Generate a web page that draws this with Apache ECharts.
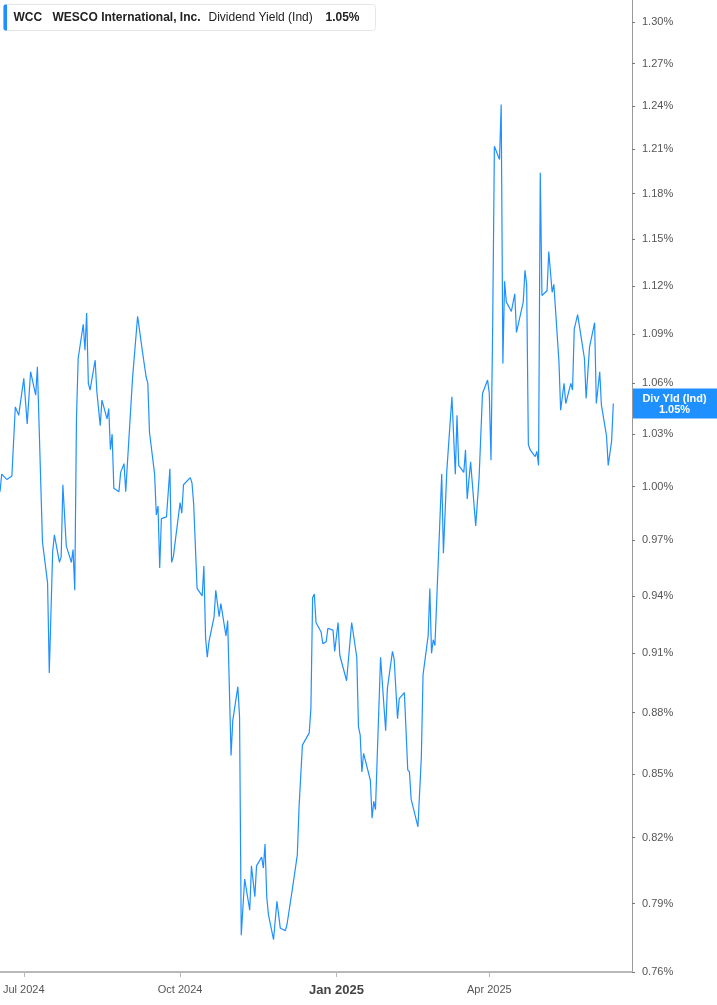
<!DOCTYPE html>
<html><head><meta charset="utf-8">
<script src="https://cdn.jsdelivr.net/npm/echarts@6/dist/echarts.min.js"></script>
<style>html,body{margin:0;padding:0;background:#fff}#c{width:717px;height:1005px}</style>
</head><body><div id="c"></div>
<script>
const dates = [
'2024-06-17','2024-06-18','2024-06-21','2024-06-24','2024-06-26','2024-06-28','2024-07-01','2024-07-03','2024-07-05','2024-07-08',
'2024-07-09','2024-07-12','2024-07-15','2024-07-16','2024-07-18','2024-07-19','2024-07-22','2024-07-23','2024-07-24','2024-07-26',
'2024-07-29','2024-07-30','2024-07-31','2024-08-01','2024-08-02','2024-08-05','2024-08-06','2024-08-07','2024-08-08','2024-08-09',
'2024-08-12','2024-08-13','2024-08-14','2024-08-15','2024-08-16','2024-08-19','2024-08-20','2024-08-21','2024-08-22','2024-08-23',
'2024-08-26','2024-08-27','2024-08-28','2024-08-29','2024-08-30','2024-09-03','2024-09-06','2024-09-09','2024-09-10','2024-09-11',
'2024-09-12','2024-09-13','2024-09-16','2024-09-17','2024-09-18','2024-09-19','2024-09-20','2024-09-23','2024-09-24','2024-09-25',
'2024-09-26','2024-09-27','2024-10-01','2024-10-02','2024-10-03','2024-10-04','2024-10-07','2024-10-08','2024-10-09','2024-10-10',
'2024-10-11','2024-10-14','2024-10-15','2024-10-16','2024-10-17','2024-10-18','2024-10-21','2024-10-22','2024-10-23','2024-10-24',
'2024-10-25','2024-10-28','2024-10-29','2024-10-30','2024-10-31','2024-11-01','2024-11-04','2024-11-05','2024-11-06','2024-11-08',
'2024-11-11','2024-11-12','2024-11-14','2024-11-15','2024-11-18','2024-11-19','2024-11-20','2024-11-21','2024-11-22','2024-11-25',
'2024-11-27','2024-11-29','2024-12-02','2024-12-03','2024-12-04','2024-12-06','2024-12-09','2024-12-10','2024-12-12','2024-12-16',
'2024-12-17','2024-12-18','2024-12-19','2024-12-20','2024-12-23','2024-12-24','2024-12-26','2024-12-27','2024-12-30','2024-12-31',
'2025-01-02','2025-01-03','2025-01-07','2025-01-08','2025-01-10','2025-01-13','2025-01-14','2025-01-15','2025-01-16','2025-01-17',
'2025-01-21','2025-01-22','2025-01-23','2025-01-24','2025-01-27','2025-01-30','2025-01-31','2025-02-03','2025-02-04','2025-02-06',
'2025-02-07','2025-02-10','2025-02-11','2025-02-12','2025-02-13','2025-02-14','2025-02-18','2025-02-20','2025-02-21','2025-02-24',
'2025-02-25','2025-02-26','2025-02-27','2025-02-28','2025-03-04','2025-03-05','2025-03-07','2025-03-10','2025-03-12','2025-03-13',
'2025-03-14','2025-03-17','2025-03-18','2025-03-19','2025-03-21','2025-03-24','2025-03-26','2025-03-28','2025-03-31','2025-04-01',
'2025-04-02','2025-04-03','2025-04-04','2025-04-07','2025-04-08','2025-04-09','2025-04-10','2025-04-11','2025-04-14','2025-04-15',
'2025-04-16','2025-04-17','2025-04-21','2025-04-22','2025-04-23','2025-04-24','2025-04-25','2025-04-28','2025-04-29','2025-04-30',
'2025-05-01','2025-05-02','2025-05-05','2025-05-06','2025-05-07','2025-05-08','2025-05-09','2025-05-12','2025-05-13','2025-05-14',
'2025-05-15','2025-05-16','2025-05-19','2025-05-20','2025-05-21','2025-05-22','2025-05-23','2025-05-27','2025-05-28','2025-05-30',
'2025-06-02','2025-06-03','2025-06-05','2025-06-06','2025-06-09','2025-06-10','2025-06-12','2025-06-13'
];
const yields = [
0.997,1.007,1.004,1.006,1.046,1.041,1.063,1.036,1.067,1.053,
1.070,0.969,0.947,0.900,0.964,0.973,0.958,0.961,1.001,0.967,
0.958,0.965,0.943,1.039,1.075,1.096,1.080,1.103,1.060,1.056,
1.074,1.055,1.056,1.035,1.050,1.039,1.045,1.021,1.030,0.999,
0.997,1.008,1.008,1.013,0.997,1.063,1.101,1.078,1.078,1.064,
1.060,1.031,1.007,0.984,0.989,0.955,0.982,0.983,0.982,1.010,
0.958,0.961,0.991,0.985,1.001,1.000,1.005,1.002,0.990,0.989,
0.944,0.940,0.956,0.918,0.908,0.916,0.929,0.943,0.944,0.929,
0.936,0.919,0.927,0.927,0.859,0.876,0.893,0.878,0.776,0.801,
0.787,0.807,0.793,0.807,0.811,0.806,0.817,0.793,0.785,0.774,
0.791,0.779,0.778,0.781,0.781,0.796,0.812,0.834,0.864,0.870,
0.882,0.939,0.941,0.926,0.921,0.915,0.916,0.923,0.922,0.911,
0.926,0.909,0.896,0.897,0.926,0.908,0.873,0.869,0.851,0.860,
0.847,0.829,0.837,0.833,0.908,0.871,0.892,0.911,0.907,0.877,
0.887,0.890,0.871,0.852,0.851,0.838,0.825,0.858,0.899,0.919,
0.944,0.910,0.917,0.914,1.007,0.963,1.009,1.052,1.007,1.041,
1.012,1.008,1.021,0.993,1.014,0.978,1.005,1.054,1.062,1.054,
1.015,1.096,1.212,1.203,1.241,1.072,1.123,1.110,1.104,1.104,
1.115,1.091,1.110,1.130,1.121,1.024,1.021,1.017,1.020,1.012,
1.194,1.114,1.117,1.142,1.142,1.116,1.121,1.073,1.044,1.045,
1.060,1.048,1.060,1.056,1.093,1.094,1.102,1.075,1.051,1.082,
1.097,1.048,1.067,1.047,1.029,1.012,1.026,1.048
];
const yTicks = [0.76,0.79,0.82,0.85,0.88,0.91,0.94,0.97,1.00,1.03,1.06,1.09,1.12,1.15,1.18,1.21,1.24,1.27,1.30];
const xTickDates = ['2024-07-01','2024-10-01','2025-01-01','2025-04-01'];
const monthNames = ['Jan','Feb','Mar','Apr','May','Jun','Jul','Aug','Sep','Oct','Nov','Dec'];
const xStart = '2024-06-17', xEnd = '2025-06-24';
const yMin = 0.76, yMax = 1.3165;
const ticker = 'WCC', company = 'WESCO International, Inc.', metric = 'Dividend Yield (Ind)', tagName = 'Div Yld (Ind)';

const ts = s => new Date(s + 'T00:00:00').getTime();
const lastVal = yields[yields.length - 1];
const lastTxt = lastVal.toFixed(2) + '%';
const blue = '#1e90ff';
const FONT = '"Liberation Sans", Arial, sans-serif';
const W = 717;

const header = [{
  type: 'group', id: 'hdr', left: 3, top: 4,
  children: [
    {type: 'rect', shape: {x: 0, y: 0, width: 372, height: 26, r: 3}, style: {fill: '#fff', stroke: '#e6e6e6', lineWidth: 1}},
    {type: 'rect', shape: {x: 0, y: 0, width: 3.5, height: 26, r: [2, 0, 0, 2]}, style: {fill: blue}},
    {type: 'text', x: 10, y: 13, style: {text: ticker, fill: '#222', font: 'bold 12px ' + FONT, verticalAlign: 'middle'}},
    {type: 'text', x: 49, y: 13, style: {text: company, fill: '#222', font: 'bold 12px ' + FONT, verticalAlign: 'middle'}},
    {type: 'text', x: 205, y: 13, style: {text: metric, fill: '#222', font: '12px ' + FONT, verticalAlign: 'middle'}},
    {type: 'text', x: 322, y: 13, style: {text: lastTxt, fill: '#222', font: 'bold 12px ' + FONT, verticalAlign: 'middle'}}
  ]
}];

const chart = echarts.init(document.getElementById('c'), null, {renderer: 'canvas'});
chart.setOption({
  animation: false,
  textStyle: {fontFamily: FONT},
  grid: {left: 0, right: 85, top: 0, bottom: 33, containLabel: false},
  xAxis: {
    type: 'value', min: ts(xStart), max: ts(xEnd), scale: true,
    axisLine: {show: true, lineStyle: {color: '#b8b8b8', width: 2}},
    axisTick: {show: true, customValues: xTickDates.map(ts), length: 5, lineStyle: {color: '#b8b8b8'}},
    axisLabel: {
      customValues: xTickDates.map(ts), color: '#555', fontSize: 11, margin: 12, fontFamily: FONT,
      formatter: v => { const d = new Date(v); const s = monthNames[d.getMonth()] + ' ' + d.getFullYear(); return d.getMonth() === 0 ? '{b|' + s + '}' : s; },
      rich: {b: {fontWeight: 'bold', fontSize: 13, color: '#444', fontFamily: FONT}}
    },
    splitLine: {show: false}
  },
  yAxis: {
    type: 'log', logBase: 10, position: 'right', min: yMin, max: yMax,
    axisLine: {show: true, lineStyle: {color: '#999'}},
    axisTick: {show: true, customValues: yTicks, length: 3, lineStyle: {color: '#777'}},
    axisLabel: {customValues: yTicks, formatter: v => v.toFixed(2) + '%', color: '#555', fontSize: 11, margin: 10, fontFamily: FONT},
    splitLine: {show: false}
  },
  series: [{
    type: 'line', data: dates.map((d, i) => [ts(d), yields[i]]), showSymbol: false, symbol: 'none',
    lineStyle: {color: blue, width: 1.2}, itemStyle: {color: blue}
  }],
  graphic: header
});

// value tag on the right axis, positioned through the chart's own scales
const py = chart.convertToPixel({yAxisIndex: 0}, lastVal);
const px = chart.convertToPixel({xAxisIndex: 0}, ts(xEnd));
chart.setOption({
  graphic: header.concat([{
    type: 'group', id: 'tag', x: px, y: py,
    children: [
      {type: 'rect', shape: {x: 0, y: -15, width: W - px, height: 30}, style: {fill: blue}},
      {type: 'text', x: (W - px) / 2, y: -5, style: {text: tagName, fill: '#fff', font: 'bold 11px ' + FONT, align: 'center', verticalAlign: 'middle'}},
      {type: 'text', x: (W - px) / 2, y: 6, style: {text: lastTxt, fill: '#fff', font: 'bold 11px ' + FONT, align: 'center', verticalAlign: 'middle'}}
    ]
  }])
});
</script>
</body></html>
